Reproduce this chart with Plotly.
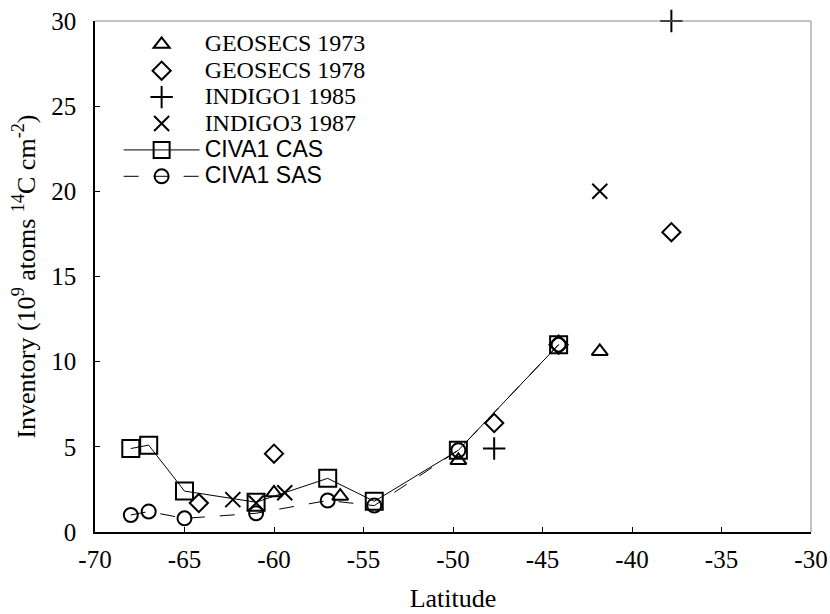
import plotly.graph_objects as go

# Data
geo73_lat = [-60.0, -56.3, -49.7, -41.8]
geo73_inv = [2.3, 2.1, 4.2, 10.6]

geo78_lat = [-64.2, -60.0, -47.7, -44.1, -37.8]
geo78_inv = [1.7, 4.6, 6.4, 11.0, 17.6]

ind1_lat = [-47.7, -37.8]
ind1_inv = [4.9, 30.0]

ind3_lat = [-62.3, -61.0, -59.4, -41.8]
ind3_inv = [1.9, 1.7, 2.3, 20.0]

cas_lat = [-68.0, -67.0, -65.0, -61.0, -57.0, -54.4, -49.7, -44.1]
cas_inv = [4.9, 5.1, 2.4, 1.75, 3.15, 1.8, 4.8, 11.0]

sas_lat = [-68.0, -67.0, -65.0, -61.0, -57.0, -54.4, -49.7, -44.1]
sas_inv = [1.0, 1.2, 0.8, 1.1, 1.85, 1.55, 4.8, 11.0]

x_ticks = [-70, -65, -60, -55, -50, -45, -40, -35, -30]
y_ticks = [0, 5, 10, 15, 20, 25, 30]

SERIF = "Liberation Serif, Times New Roman, serif"
SANS = "Liberation Sans, Arial, sans-serif"


def serif_name(t):
    return '<span style="font-size:24px">' + t + '</span>'


def sans_name(t):
    return ('<span style="font-family:Liberation Sans, Arial, sans-serif;font-size:23px">'
            + t + '</span>')


fig = go.Figure()

mk = dict(color="black", line=dict(color="black", width=2))

fig.add_trace(go.Scatter(x=geo73_lat, y=geo73_inv, mode="markers", name=serif_name("GEOSECS 1973"),
                         marker=dict(symbol="triangle-up-open", size=14, **mk), cliponaxis=False))
fig.add_trace(go.Scatter(x=geo78_lat, y=geo78_inv, mode="markers", name=serif_name("GEOSECS 1978"),
                         marker=dict(symbol="diamond-open", size=14, **mk), cliponaxis=False))
fig.add_trace(go.Scatter(x=ind1_lat, y=ind1_inv, mode="markers", name=serif_name("INDIGO1 1985"),
                         marker=dict(symbol="cross-thin-open", size=16, **mk), cliponaxis=False))
fig.add_trace(go.Scatter(x=ind3_lat, y=ind3_inv, mode="markers", name=serif_name("INDIGO3 1987"),
                         marker=dict(symbol="x-thin-open", size=15, **mk), cliponaxis=False))
fig.add_trace(go.Scatter(x=cas_lat, y=cas_inv, mode="lines+markers", name=sans_name("CIVA1 CAS"),
                         line=dict(color="black", width=1),
                         marker=dict(symbol="square-open", size=17, **mk), cliponaxis=False))
fig.add_trace(go.Scatter(x=sas_lat, y=sas_inv, mode="lines+markers", name=sans_name("CIVA1 SAS"),
                         line=dict(color="black", width=1, dash="longdash"),
                         marker=dict(symbol="circle-open", size=14, **mk), cliponaxis=False))

fig.update_layout(
    width=830, height=614,
    margin=dict(l=95, r=19, t=21, b=82, autoexpand=False),
    paper_bgcolor="white", plot_bgcolor="white",
    font=dict(family=SERIF, size=25, color="black"),
    showlegend=True,
    legend=dict(x=0.033, y=0.99, xanchor="left", yanchor="top",
                bgcolor="rgba(0,0,0,0)", font=dict(family=SERIF, size=18),
                itemwidth=76, tracegroupgap=0),
    xaxis=dict(range=[-70, -30], tickvals=x_ticks, ticktext=[str(v) for v in x_ticks],
               showgrid=False, zeroline=False, showline=True, linecolor="black", linewidth=1.5,
               ticks="inside", ticklen=5, tickcolor="black", tickfont=dict(size=25),
               ticklabelstandoff=4, automargin=False,
               title=dict(text="Latitude", font=dict(size=26), standoff=17)),
    yaxis=dict(range=[0, 30], tickvals=y_ticks, ticktext=[str(v) for v in y_ticks],
               showgrid=False, zeroline=False, showline=True, linecolor="black", linewidth=1.5,
               ticks="inside", ticklen=5, tickcolor="black", tickfont=dict(size=25),
               ticklabelstandoff=12, automargin=False),
    annotations=[
        dict(text="Inventory (10<sup>9</sup> atoms <sup>14</sup>C cm<sup>-2</sup>)",
             textangle=-90, xref="paper", yref="paper", x=-0.099, y=0.5,
             xanchor="center", yanchor="middle", showarrow=False,
             font=dict(family=SERIF, size=26, color="black")),
    ],
    shapes=[
        dict(type="line", xref="paper", yref="paper", x0=0, x1=1, y0=1, y1=1,
             line=dict(color="#888888", width=1)),
        dict(type="line", xref="paper", yref="paper", x0=1, x1=1, y0=0, y1=1,
             line=dict(color="#888888", width=1)),
    ],
)

fig.write_html("out.html", config={"displayModeBar": False},
               post_script="document.body.style.margin='0px';")
